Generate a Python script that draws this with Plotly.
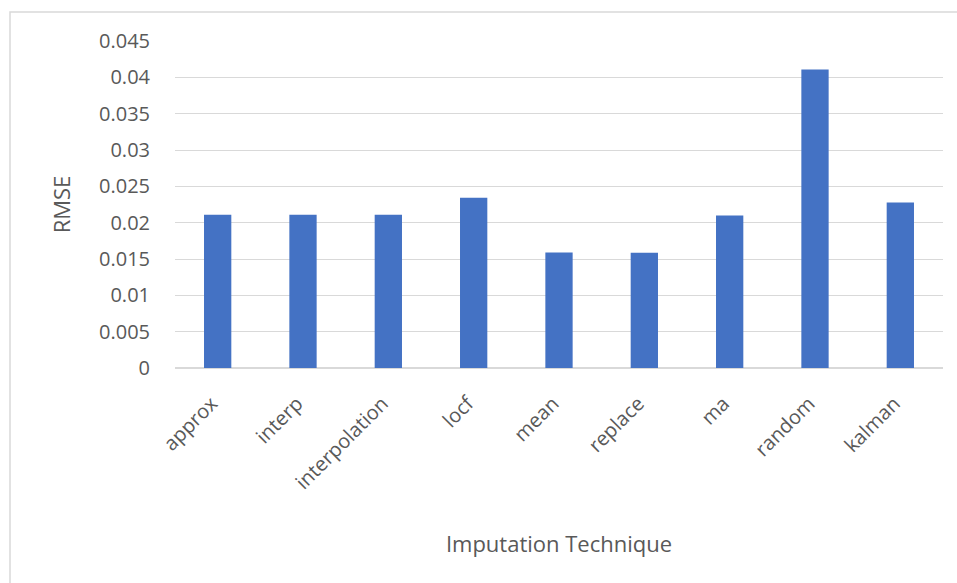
import plotly.graph_objects as go

# Imputation techniques and their RMSE
techniques = ["approx", "interp", "interpolation", "locf", "mean",
              "replace", "ma", "random", "kalman"]
rmse = [0.0211, 0.0211, 0.0211, 0.02345, 0.0159,
        0.01588, 0.0210, 0.0411, 0.0228]

y_ticks = [0, 0.005, 0.01, 0.015, 0.02, 0.025, 0.03, 0.035, 0.04, 0.045]
y_tick_text = ["0", "0.005", "0.01", "0.015", "0.02", "0.025",
               "0.03", "0.035", "0.04", "0.045"]

W, H = 957, 583
ML, MR, MT, MB = 175, 14, 41, 215
pw, ph = W - ML - MR, H - MT - MB

text_color = "#595959"
font_family = "Open Sans, Liberation Sans, sans-serif"


def px_to_paper_x(px):
    return (px - ML) / pw


def px_to_paper_y(py):
    return (H - MB - py) / ph


fig = go.Figure(
    go.Bar(
        x=techniques,
        y=rmse,
        marker=dict(color="#4472C4", line=dict(width=0)),
        width=0.32,
    )
)

fig.update_layout(
    width=W,
    height=H,
    margin=dict(l=ML, r=MR, t=MT, b=MB, pad=0),
    paper_bgcolor="white",
    plot_bgcolor="white",
    showlegend=False,
    font=dict(family=font_family, color=text_color, size=20),
    xaxis=dict(
        tickangle=-45,
        showgrid=False,
        showline=False,
        zeroline=False,
        ticks="",
        ticklabelstandoff=19,
        ticklabelshift=-6,
        tickfont=dict(size=20, color=text_color),
        title=dict(text="Imputation Technique",
                   font=dict(size=22, color=text_color), standoff=42),
    ),
    yaxis=dict(
        range=[0, 0.04502],
        tickvals=y_ticks,
        ticktext=y_tick_text,
        showgrid=True,
        gridcolor="#D9D9D9",
        gridwidth=1,
        zeroline=True,
        zerolinecolor="#D9D9D9",
        zerolinewidth=1.5,
        showline=False,
        ticks="",
        ticklabelstandoff=24,
        tickfont=dict(size=20, color=text_color),
        title=dict(text="RMSE", font=dict(size=22, color=text_color),
                   standoff=22),
    ),
)

# Chart frame (extends past the right and bottom of the canvas)
fig.add_shape(
    type="rect", xref="paper", yref="paper",
    x0=px_to_paper_x(10), x1=px_to_paper_x(W + 20),
    y0=px_to_paper_y(H + 20), y1=px_to_paper_y(12),
    line=dict(color="#D9D9D9", width=1.5), layer="below",
)

fig.write_html("out.html")
